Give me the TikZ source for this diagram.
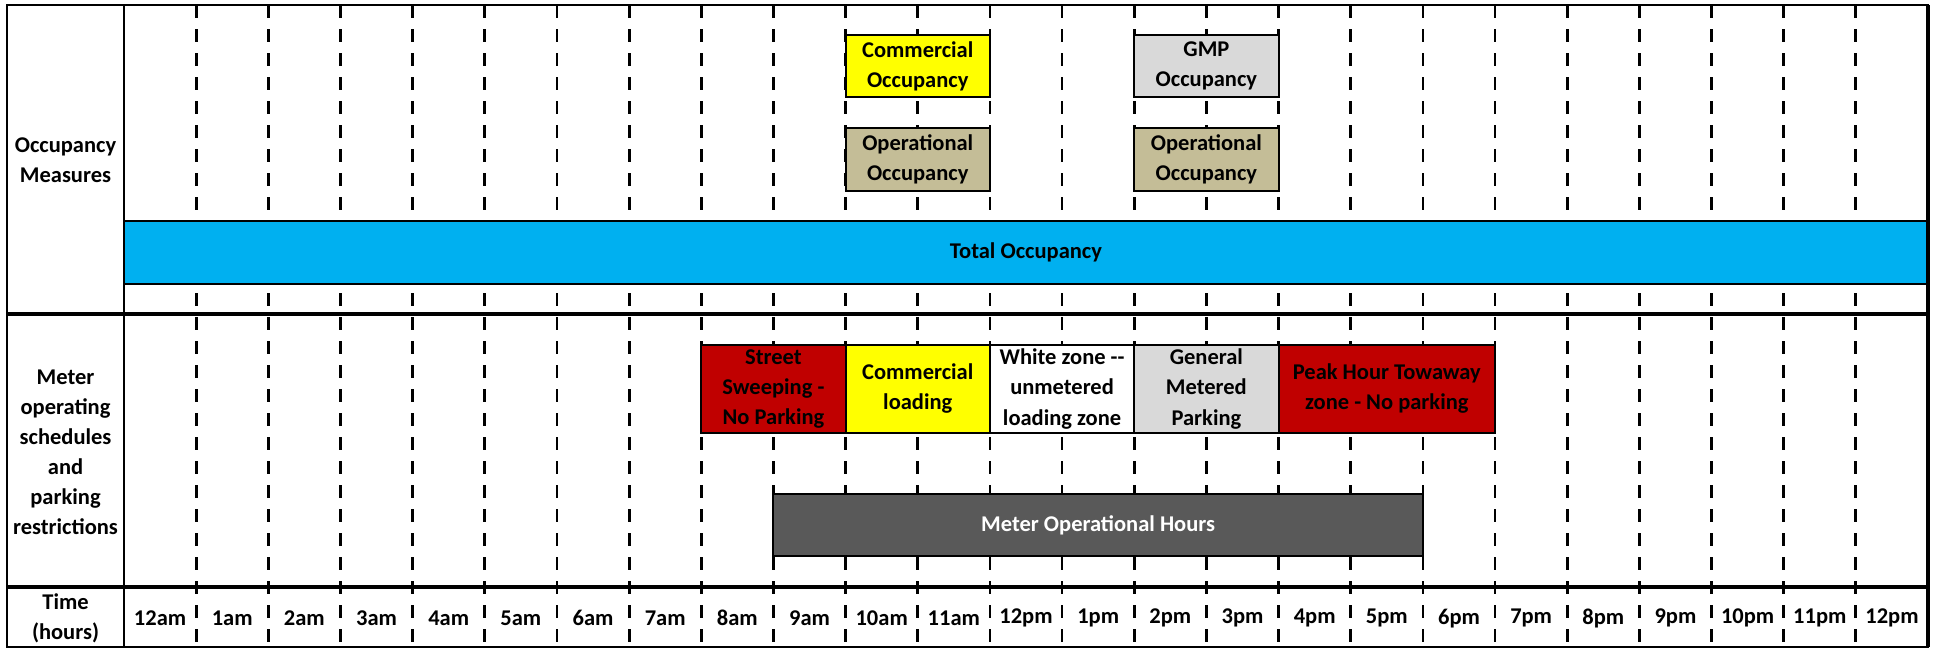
\documentclass[tikz,border=0pt]{standalone}
\usepackage{fontspec}
\setmainfont{Carlito}
\usepackage{tikz}

\definecolor{occblue}{HTML}{00B0F0}
\definecolor{comyellow}{HTML}{FFFF00}
\definecolor{gmpgrey}{HTML}{D9D9D9}
\definecolor{optan}{HTML}{C4BD97}
\definecolor{sweepred}{HTML}{C00000}
\definecolor{metergrey}{HTML}{595959}

\begin{document}
\begin{tikzpicture}[x=36.08pt, y=36.08pt,
    every node/.style={font=\fontsize{11.25}{15}\selectfont\bfseries, align=center},
    hourline/.style={line width=1.4pt, dash pattern=on 6.5pt off 5.5pt},
    slot/.style 2 args={draw, line width=1pt, inner sep=0pt,
      minimum width=#1*36.08pt, minimum height=#2*36.08pt}]
  \useasboundingbox (-1.718,-0.042) rectangle (25.18,8.966);
  % hour grid
  \foreach \k in {1,...,24}
    \draw[hourline] (\k,8.89) -- (\k,0);
  % occupancy measures
  \node[slot={2}{0.85}, fill=comyellow] (comocc) at (11,8.05) {Commercial\\Occupancy};
  \node[slot={2}{0.85}, fill=gmpgrey] (gmpocc) at (15,8.05) {GMP\\Occupancy};
  \node[slot={2}{0.87}, fill=optan] (opocca) at (11,6.756) {Operational\\Occupancy};
  \node[slot={2}{0.87}, fill=optan] (opoccb) at (15,6.756) {Operational\\Occupancy};
  \node[slot={25}{0.87}, fill=occblue] (totocc) at (12.5,5.467) {Total Occupancy};
  % schedules and restrictions
  \node[slot={2}{1.22}, fill=sweepred] (sweep) at (9,3.575) {Street\\Sweeping -\\No Parking};
  \node[slot={2}{1.22}, fill=comyellow] (comload) at (11,3.575) {Commercial\\loading};
  \node[slot={2}{1.22}, fill=white] (whitezone) at (13,3.575) {White zone -{}-\\unmetered\\loading zone};
  \node[slot={2}{1.22}, fill=gmpgrey] (gmp) at (15,3.575) {General\\Metered\\Parking};
  \node[slot={3}{1.22}, fill=sweepred] (towaway) at (17.5,3.575) {Peak Hour Towaway\\zone - No parking};
  \node[slot={9}{0.86}, fill=metergrey, text=white] (meter) at (13.5,1.691) {Meter Operational Hours};
  % frame
  \draw[line width=1pt] (-1.62,0) rectangle (25,8.89);
  \draw[line width=1.8pt] (25,0) -- (25,8.89);
  \draw[line width=1pt] (0,0) -- (0,8.89);
  \draw[line width=2pt] (-1.62,4.615) -- (25,4.615);
  \draw[line width=2pt] (-1.62,0.831) -- (25,0.831);
  % row labels
  \node (occlbl) at (-0.81,6.75) {Occupancy\\Measures};
  \node (meterlbl) at (-0.81,2.70) {Meter\\operating\\schedules\\and\\parking\\restrictions};
  \node (timelbl) at (-0.81,0.40) {Time\\(hours)};
  % time labels
  \foreach \t [count=\i from 0] in {12am,1am,2am,3am,4am,5am,6am,7am,8am,9am,10am,11am,
      12pm,1pm,2pm,3pm,4pm,5pm,6pm,7pm,8pm,9pm,10pm,11pm,12pm}
    \node (hr\i) at (\i+0.5,0.40) {\t};
\end{tikzpicture}
\end{document}
